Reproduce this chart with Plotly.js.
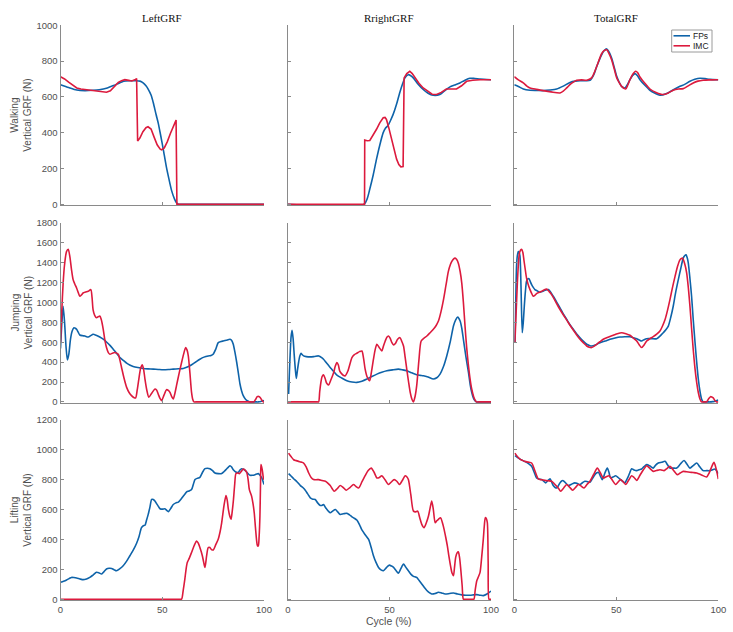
<!DOCTYPE html>
<html>
<head>
<meta charset="utf-8">
<script src="https://cdn.plot.ly/plotly-3.0.1.min.js"></script>
<style>html,body{margin:0;padding:0;background:#fff;}#chart{width:733px;height:632px;}</style>
</head>
<body>
<div id="chart"></div>
<script>
// ---------- DATA: [cycle %, vertical GRF (N)] ----------
const columnTitles = ["LeftGRF", "RrightGRF", "TotalGRF"];
const rowTitles = ["Walking", "Jumping", "Lifting"];
const seriesNames = ["FPs", "IMC"];
const xTicks = [0, 50, 100];
const yMax = [1000, 1800, 1200];

const walkLeftFPs = [[0,668],[4,652],[8,638],[12,635],[16,637],[19,640],[23,650],[26,663],[29,678],[31,687],[34,690],[37,690],[39,688],[40.6,678],[42,662],[43,645],[44.5,610],[45.6,567],[47,500],[48,455],[49.3,380],[50.5,307],[52,210],[53.3,140],[54.6,76],[56,30],[57,8],[58,0],[60,0],[100,0]];
const walkLeftIMC = [[0,712],[2,700],[4,682],[6,665],[8,650],[10,644],[12.8,640],[15,635],[17.7,630],[20,627],[22.6,626],[24.5,634],[26,650],[27.5,670],[28.4,681],[30,690],[31.6,696],[33.5,692],[35,689],[36.5,695],[37.4,702],[37.9,354],[39,370],[40.5,405],[42,428],[43,433],[44.5,420],[46,375],[47.5,332],[49,308],[49.7,304],[51,315],[52.5,350],[54,395],[55.5,440],[56.8,470],[57.2,0],[60,0],[100,0]];
const walkRightFPs = [[0,0],[37.5,0],[39,30],[40.3,85],[42,165],[43.6,252],[45.2,330],[46.9,400],[48,425],[49.3,440],[50.5,468],[51.8,502],[53.5,560],[55,622],[56.5,675],[57.6,706],[59.2,724],[60.5,718],[61.7,706],[64,672],[66.6,641],[69,620],[71.5,609],[74.8,613],[77,632],[79.8,656],[82,666],[84.7,678],[87,692],[89.6,704],[92,703],[94.6,700],[100,696]];
const walkRightIMC = [[0,0],[37.7,0],[37.8,359],[39,355],[40.3,356],[42,385],[43.6,419],[45.2,455],[46.9,483],[47.8,485],[48.5,474],[49.7,425],[51,363],[52.3,300],[53.5,252],[54.6,222],[55.6,209],[56.7,211],[57.2,706],[58.5,730],[60,743],[61.2,730],[62.5,706],[64.5,676],[66.6,650],[69,628],[71,615],[73.2,613],[75.5,625],[78,644],[80.5,646],[83,644],[85.5,662],[88,687],[91,693],[94.6,696],[100,696]];
const walkTotalFPs = [[0,668],[2,658],[4.4,644],[7.7,637],[11,636],[14.2,635],[17.5,638],[20.8,644],[24,660],[27.3,681],[30,688],[32.2,690],[35,690],[37.1,692],[38.8,720],[40.4,770],[42.8,835],[44,858],[45.3,868],[46.5,850],[47.7,817],[49,765],[50.2,715],[51.5,680],[52.6,659],[54.2,650],[55.5,670],[56.7,696],[58,720],[59.2,730],[60.4,718],[61.6,696],[64,665],[66.5,637],[69,620],[71.4,609],[74.7,619],[78,640],[81.2,659],[83.5,670],[86.1,687],[88.5,698],[91,704],[93.5,702],[95.9,698],[100,696]];
const walkTotalIMC = [[0,713],[2,695],[4.4,678],[6,662],[7.7,650],[11,642],[14.2,635],[18,628],[22.4,622],[24,632],[25.7,650],[28,675],[30.6,693],[33,695],[35.5,693],[37.9,706],[39,730],[40.4,770],[42.8,841],[44,858],[45.3,863],[46.5,840],[47.7,807],[49,755],[50.2,706],[51.5,678],[52.6,659],[54.6,644],[55.6,665],[56.7,696],[58,725],[59.5,743],[60.5,735],[61.6,711],[64,676],[66.5,644],[69.5,625],[73,613],[75.5,622],[77.9,637],[80.5,644],[82.8,646],[85,660],[87.7,678],[90,688],[92.6,693],[96,695],[100,696]];

const jumpLeftFPs = [[0,536],[0.7,800],[1.3,961],[2,800],[2.7,560],[3.4,422],[4.1,480],[4.9,629],[5.7,710],[6.6,745],[7.3,740],[7.9,729],[8.7,700],[9.5,672],[11,665],[12,662],[13.6,652],[15,668],[16,679],[17.5,670],[19.3,652],[21,630],[22.6,602],[24.3,568],[25.9,529],[27.5,490],[29.2,446],[31,415],[32.5,389],[34,370],[35.7,356],[38,345],[40.7,336],[43,332],[45.6,329],[48,326],[50.5,323],[53,325],[55.4,329],[58,333],[60.3,336],[62,348],[63.6,363],[66,395],[68.5,429],[70.5,450],[72.6,462],[74,466],[75,479],[76.3,530],[77.5,595],[79,608],[80,612],[81.5,620],[83.3,629],[84.2,615],[84.9,579],[85.8,490],[86.6,396],[87.4,290],[88.2,180],[89,110],[89.8,63],[91,25],[92.3,7],[93.1,0],[94,0],[96.5,0],[97.2,0],[98.5,5],[99.7,13],[100,10]];
const jumpLeftIMC = [[0,595],[0.6,900],[1.3,1194],[2,1380],[2.95,1510],[3.8,1534],[4.6,1460],[5.4,1330],[6.2,1228],[7,1185],[7.9,1144],[8.7,1100],[9.5,1061],[10.3,1075],[11.1,1094],[12.3,1103],[13.6,1111],[14.9,1128],[15.5,1050],[16,928],[16.8,870],[17.7,845],[18.5,855],[19.3,862],[20,830],[21,729],[21.8,620],[22.6,546],[23.5,495],[24.3,479],[25.5,490],[26.7,496],[27.6,490],[28.4,479],[29.2,420],[30,346],[31.2,240],[32.5,146],[33.7,95],[34.9,63],[36,45],[36.9,40],[37.7,120],[38.5,230],[39.4,340],[40.2,373],[40.9,320],[41.5,230],[42.4,120],[43.4,47],[44.9,90],[46.4,130],[47.2,120],[48,80],[48.9,35],[49.7,13],[50.9,70],[52.1,123],[53,115],[53.8,96],[54.6,55],[55.4,30],[56.2,85],[57,163],[58.2,280],[59.5,396],[60.5,480],[61.5,546],[62.2,520],[62.8,462],[63.6,290],[64.4,96],[65,25],[65.6,0],[66.5,0],[94,0],[95,0],[96,30],[96.7,53],[97.4,55],[98,47],[98.9,20],[99.7,0],[100,0]];
const jumpRightFPs = [[0.3,80],[0.7,300],[1.1,496],[1.5,650],[2,719],[2.5,640],[3.1,462],[3.6,330],[4.1,236],[4.6,310],[5.2,396],[5.8,460],[6.4,489],[7,475],[7.7,462],[9,455],[11,452],[13,456],[15.1,462],[16.2,450],[17.5,429],[19,390],[20.8,346],[22.5,305],[24.1,269],[26.5,240],[29,213],[31.5,200],[33.9,196],[36.4,208],[38.9,230],[41.3,255],[43.8,279],[46.2,298],[48.7,313],[51.5,322],[54.4,329],[56.5,322],[58.5,313],[61,292],[63.4,273],[65,267],[66.7,263],[69,250],[71.6,230],[73.3,243],[74.9,279],[76.5,350],[78.2,462],[80,610],[81.5,762],[82.6,825],[83.6,852],[84.8,812],[85.6,740],[86.4,629],[87.6,460],[88.9,296],[89.7,180],[90.5,96],[91.3,40],[92.1,13],[93,0],[94,0],[100,0]];
const jumpRightIMC = [[0,0],[14.5,0],[15.1,0],[15.6,100],[16.2,196],[16.8,255],[17.5,273],[18.3,235],[19,190],[20,170],[21,215],[22.5,296],[23.3,360],[24.1,396],[24.8,370],[25.5,310],[26.6,279],[27.4,265],[28.2,263],[29.5,310],[31.5,446],[32.7,475],[33.9,489],[35.2,505],[36.4,512],[37.2,440],[38,329],[39,250],[40.2,213],[41.1,300],[42.1,429],[43,530],[43.8,579],[45,545],[46.2,512],[47,560],[47.9,612],[48.7,650],[49.5,662],[50.3,640],[51.2,595],[52,572],[53,590],[54,630],[55.2,645],[56,610],[56.9,562],[57.7,450],[58.5,329],[59.4,200],[60.2,96],[61,30],[61.8,0],[62.6,55],[63.4,163],[64.5,420],[65.6,612],[67,640],[68.4,662],[70,695],[71.6,729],[72.9,765],[74.1,812],[75.4,910],[76.6,1028],[77.8,1170],[79,1311],[80,1380],[80.7,1411],[81.5,1435],[82.3,1444],[83.1,1430],[83.9,1394],[84.8,1310],[85.6,1194],[86.4,1000],[87.2,762],[88,550],[88.9,363],[89.7,230],[90.5,130],[91.5,50],[92.5,7],[93,0],[94,0],[100,0]];
const jumpTotalFPs = [[0.3,595],[0.7,1000],[1.1,1361],[1.5,1470],[2,1510],[2.4,1500],[2.8,1460],[3.3,1150],[3.9,695],[4.4,800],[4.9,961],[5.4,1100],[6,1211],[6.6,1235],[7.2,1238],[7.8,1210],[8.5,1178],[9.3,1150],[10.1,1128],[11.3,1115],[12.6,1101],[13.8,1110],[15,1121],[16.7,1128],[17.9,1100],[19.1,1061],[20.7,1005],[22.4,945],[24,885],[25.7,828],[27.3,775],[28.9,729],[30.5,685],[32.2,645],[33.8,610],[35.5,579],[36.7,568],[37.9,562],[40,575],[42,595],[44.5,612],[46.9,629],[49.4,642],[51.8,652],[54.2,655],[56.7,655],[58.4,645],[60,635],[61.2,622],[62.4,612],[63.6,625],[64.9,635],[67.3,635],[69.8,635],[71.4,660],[73,695],[74.3,725],[75.5,762],[76.7,850],[77.9,961],[79.1,1100],[80.4,1228],[81.6,1340],[82.8,1444],[83.5,1468],[84.2,1477],[84.8,1445],[85.3,1394],[86.1,1240],[86.9,1061],[87.7,830],[88.6,595],[89.4,400],[90.2,230],[91,110],[91.8,30],[92.6,0],[93.5,0],[95.2,0],[95.9,0],[97.2,3],[98.4,7],[100,20]];
const jumpTotalIMC = [[0.3,595],[0.9,900],[1.5,1194],[2,1380],[2.5,1494],[3.1,1525],[3.6,1534],[4.2,1500],[4.7,1427],[5.3,1340],[6,1244],[6.8,1180],[7.7,1128],[8.5,1090],[9.3,1061],[10.1,1070],[10.9,1088],[12.1,1100],[13.4,1111],[14.6,1125],[15.8,1134],[17,1110],[18.3,1078],[20.3,1005],[22.4,928],[24,875],[25.7,822],[27.3,770],[28.9,722],[30.5,675],[32.2,629],[33.8,595],[35.5,562],[36.7,550],[37.9,546],[39.2,560],[40.4,579],[42,605],[43.6,629],[46,650],[48.5,669],[50.5,685],[52.6,695],[54.7,685],[56.7,669],[58.4,640],[60,612],[61.2,575],[62.4,546],[63.7,575],[64.9,612],[66.5,635],[68.1,655],[69.8,680],[71.4,712],[72.6,760],[73.9,828],[75.1,920],[76.3,1028],[77.5,1145],[78.8,1261],[80,1360],[81.2,1427],[81.9,1440],[82.5,1444],[83.5,1390],[84.5,1294],[85.3,1150],[86.1,961],[86.9,740],[87.7,529],[88.5,350],[89.4,196],[90.2,95],[91,30],[91.8,0],[92.6,0],[93.6,0],[94.3,0],[95.2,30],[96.2,53],[96.8,50],[97.5,40],[98.3,15],[99.2,0],[100,0]];

const liftLeftFPs = [[0,113],[1.5,120],[3,129],[4.2,138],[5.4,146],[6.6,145],[7.9,142],[9.5,136],[11.1,131],[12.8,136],[14.4,146],[16,162],[17.7,180],[19,176],[20.2,169],[21.4,185],[22.6,202],[23.9,207],[25.1,206],[26.3,198],[27.5,191],[29.2,205],[30.8,224],[32.5,255],[34.1,291],[35.8,330],[37.4,375],[38.6,420],[39.8,479],[40.7,492],[41.5,495],[42.3,530],[43.1,568],[44,620],[44.8,668],[45.6,668],[46.4,657],[47.7,630],[48.9,606],[50.1,603],[51.3,606],[52.2,595],[53,586],[54.2,608],[55.4,634],[56.7,645],[57.9,650],[59.1,668],[60.3,690],[61.2,705],[62,719],[63.2,725],[64.4,734],[65.3,770],[66.1,801],[67.3,810],[68.5,816],[69.8,850],[71,874],[72.2,877],[73.4,874],[74.6,862],[75.9,845],[77.5,841],[79.2,841],[80.4,855],[81.6,872],[82.5,885],[83.3,894],[84.1,885],[84.9,867],[86.1,852],[87.4,850],[88.2,865],[89,874],[89.8,870],[90.7,863],[91.9,845],[93.1,830],[94.3,830],[95.6,834],[96.4,838],[97.2,841],[98,830],[98.9,812],[100,768]];
const liftLeftIMC = [[0,0],[58.5,0],[59.5,0],[60.3,60],[61.1,135],[61.7,200],[62.3,246],[63.3,275],[64.4,313],[65.7,360],[66.9,390],[67.7,375],[68.5,346],[69.7,291],[70.4,245],[71,213],[71.8,290],[72.6,346],[73.4,346],[74.2,332],[75.1,330],[76.3,365],[77.5,401],[78.4,450],[79.2,512],[80.3,623],[81.3,694],[81.9,665],[82.5,601],[83.2,555],[83.8,535],[84.4,590],[85,668],[85.6,770],[86.2,841],[87,845],[87.9,841],[88.8,855],[89.8,872],[90.7,865],[91.5,850],[92.2,800],[92.8,734],[93.9,690],[94.6,640],[95.2,579],[95.8,480],[96.4,390],[96.8,357],[97.2,357],[97.6,420],[98,557],[98.3,780],[98.5,901],[99.1,870],[99.7,812],[100,800]];
const liftRightFPs = [[0.3,841],[1.5,825],[2.8,807],[4.5,785],[6.1,761],[7.3,748],[8.5,730],[9.7,705],[11,679],[12.2,670],[13.4,668],[14.6,645],[15.9,628],[16.7,628],[17.5,634],[18.3,618],[19.2,601],[20,588],[20.8,579],[22,590],[23.3,601],[24.5,585],[25.7,568],[27.3,572],[29,575],[30.3,565],[31.5,552],[32.7,542],[33.9,530],[35.2,500],[36.4,464],[38,432],[39.7,401],[40.9,350],[42.1,291],[43.3,248],[44.6,213],[45.8,197],[47,191],[48.4,210],[49.8,228],[51,222],[52,213],[53.2,192],[54.4,175],[55.6,205],[56.9,235],[58,215],[59.3,191],[60.5,168],[61.8,153],[62.6,150],[63.4,146],[64.6,125],[65.9,102],[67.1,80],[68.4,58],[69.6,44],[70.8,35],[72.5,38],[74.1,47],[75.7,42],[77.4,35],[79.5,38],[81.5,42],[83.5,35],[85.6,29],[87.6,27],[89.7,27],[91.3,29],[93,31],[94.6,27],[96.2,24],[98,35],[100,55]];
const liftRightIMC = [[0.3,978],[1.5,955],[2.8,934],[4,928],[5.2,923],[6.5,918],[7.7,912],[9,885],[10.2,845],[11.4,815],[12.6,801],[13.9,800],[15.1,801],[16.8,795],[18.4,790],[19.6,778],[20.8,761],[21.8,740],[22.8,723],[24.2,740],[25.7,761],[27.2,748],[28.7,730],[30.5,748],[32.3,768],[33.5,755],[34.8,745],[36.4,785],[38,827],[39.5,862],[41,878],[42.4,850],[43.8,812],[45,815],[46.2,827],[47.8,800],[49.5,768],[50.9,785],[52.3,801],[53.6,790],[54.9,768],[56.3,795],[57.7,827],[58.5,820],[59.3,801],[60.5,700],[61.8,590],[62.9,585],[63.9,590],[64.9,545],[65.9,501],[67,479],[68.1,510],[69.2,557],[70,610],[70.8,657],[71.6,600],[72.5,512],[73.3,525],[74.1,535],[75.2,546],[76,515],[76.9,468],[77.7,415],[78.5,357],[79.3,285],[80.2,213],[80.8,175],[81.5,158],[82,210],[82.6,280],[83.3,310],[83.9,317],[84.5,280],[85.1,202],[85.8,90],[86.4,0],[87.2,0],[90.8,0],[91.6,0],[92.2,60],[93,124],[93.8,150],[94.6,180],[95.4,280],[96.2,401],[96.7,490],[97.2,546],[97.7,540],[98.2,512],[98.6,250],[99,0],[99.5,0],[100,0]];
const liftTotalFPs = [[0.3,961],[1.5,950],[2.8,938],[4.4,927],[6,916],[7.3,905],[8.5,890],[9.7,852],[10.9,812],[12.1,805],[13.4,801],[14.4,790],[15.4,779],[16.5,795],[17.5,807],[18.3,785],[19.1,761],[20,748],[20.8,745],[21.6,760],[22.4,779],[23.2,792],[24,794],[25.2,778],[26.5,761],[28,770],[29.7,779],[30.9,775],[32.2,768],[33.4,780],[34.6,790],[35.9,787],[37.1,783],[38.3,808],[39.5,834],[40.3,845],[41.2,850],[42.2,825],[43.1,801],[43.8,820],[44.4,845],[45,865],[45.6,878],[46.4,850],[47.2,812],[48.4,818],[49.7,827],[50.9,815],[52.1,801],[53.1,790],[54.2,779],[55,798],[55.9,823],[56.7,850],[57.5,874],[58.7,865],[60,861],[61.2,867],[62.4,872],[63.6,888],[64.9,901],[66.5,892],[68.1,878],[69.3,898],[70.6,912],[72.2,917],[73.9,923],[75.1,900],[76.3,878],[77.9,878],[79.6,878],[81.4,905],[83.2,929],[84.6,905],[86.1,878],[87.7,895],[89.4,912],[91,885],[92.6,861],[94.2,861],[95.9,861],[97.1,866],[98.4,872],[99.2,858],[100,841]];
const liftTotalIMC = [[0.3,978],[1.5,955],[2.8,938],[4,930],[5.2,923],[6.8,918],[8.5,912],[10.1,860],[11.8,805],[13.4,800],[15,796],[16.6,793],[18.3,790],[19.5,775],[20.8,756],[21.8,740],[22.7,723],[24.2,745],[25.7,768],[27.1,750],[28.6,730],[30,748],[31.4,768],[32.8,757],[34.2,745],[35.6,768],[37.1,790],[38.9,835],[40.7,878],[42.2,845],[43.6,812],[45,820],[46.4,827],[48,798],[49.7,768],[50.9,785],[52.1,801],[53.4,785],[54.7,768],[56.1,798],[57.5,827],[58.7,815],[60,796],[61.6,830],[63.2,865],[64.9,894],[66.5,875],[68.1,856],[69.7,862],[71.4,867],[72.4,864],[73.4,861],[74.8,875],[76.3,890],[78.1,862],[79.9,834],[81.3,845],[82.8,856],[84.4,853],[86.1,850],[87.7,848],[89.4,845],[91.8,832],[94.3,819],[95.5,845],[96.7,885],[97.9,916],[99,870],[100,805]];

// ---------- CHART ----------
const COLORS = {FPs: '#0e63a9', IMC: '#dc1a3d'};
const AXIS_GRAY = '#8a8a8a';
const TICK_GRAY = '#505050';
const FONT = 'Liberation Sans, Arial, sans-serif';
const TICK_SIZE = 9.5;

const grid = [
  [[walkLeftFPs, walkLeftIMC, true], [walkRightFPs, walkRightIMC, true], [walkTotalFPs, walkTotalIMC, false]],
  [[jumpLeftFPs, jumpLeftIMC, false], [jumpRightFPs, jumpRightIMC, false], [jumpTotalFPs, jumpTotalIMC, false]],
  [[liftLeftFPs, liftLeftIMC, false], [liftRightFPs, liftRightIMC, false], [liftTotalFPs, liftTotalIMC, false]]
];

const W = 733, H = 632;
const colPx = [[60.5, 264], [288, 491], [514.3, 718.3]];
const rowPx = [[25.3, 205.3], [222.7, 403], [420, 600.3]];
const px2x = p => p / W;
const px2y = p => 1 - p / H;

const traces = [];
const layout = {
  width: W, height: H,
  margin: {l: 0, r: 0, t: 0, b: 0},
  paper_bgcolor: '#fff', plot_bgcolor: '#fff',
  font: {family: FONT, size: TICK_SIZE, color: TICK_GRAY},
  showlegend: false,
  annotations: [],
  shapes: []
};

for (let r = 0; r < 3; r++) {
  for (let c = 0; c < 3; c++) {
    const idx = r * 3 + c + 1;
    const xa = idx === 1 ? 'x' : 'x' + idx;
    const ya = idx === 1 ? 'y' : 'y' + idx;
    const [fps, imc, sharp] = grid[r][c];
    [[seriesNames[0], fps], [seriesNames[1], imc]].forEach(([name, pts], k) => {
      const useLinear = sharp && k === 1;
      traces.push({
        type: 'scatter', mode: 'lines', name: name,
        x: pts.map(p => p[0]), y: pts.map(p => p[1]),
        xaxis: xa, yaxis: ya,
        line: {color: COLORS[name], width: 1.6,
               shape: useLinear ? 'linear' : 'spline', smoothing: 0.7},
        hoverinfo: 'skip'
      });
    });
    const axCommon = {
      showgrid: false, zeroline: false, showline: true, linecolor: AXIS_GRAY, linewidth: 1,
      ticks: 'inside', ticklen: 3, tickcolor: AXIS_GRAY, tickwidth: 1,
      tickfont: {family: FONT, size: TICK_SIZE, color: TICK_GRAY}, mirror: false, fixedrange: true
    };
    const lo = -yMax[r] * 0.006;
    layout[idx === 1 ? 'xaxis' : 'xaxis' + idx] = Object.assign({}, axCommon, {
      domain: [px2x(colPx[c][0]), px2x(colPx[c][1])],
      range: [0, 100], tickvals: xTicks, showticklabels: r === 2,
      anchor: ya
    });
    layout[idx === 1 ? 'yaxis' : 'yaxis' + idx] = Object.assign({}, axCommon, {
      domain: [px2y(rowPx[r][1]), px2y(rowPx[r][0])],
      range: [lo, yMax[r]], dtick: 200, tick0: 0, showticklabels: c === 0,
      anchor: xa
    });
  }
}

// column titles
columnTitles.forEach((t, c) => {
  layout.annotations.push({
    text: t, xref: 'paper', yref: 'paper',
    x: px2x((colPx[c][0] + colPx[c][1]) / 2), y: px2y(18),
    xanchor: 'center', yanchor: 'middle', showarrow: false,
    font: {family: 'Liberation Serif, DejaVu Serif, serif', size: 11, color: '#111'}
  });
});
// row (y-axis) titles
rowTitles.forEach((t, r) => {
  layout.annotations.push({
    text: t + '<br>Vertical GRF (N)', xref: 'paper', yref: 'paper',
    x: px2x(21.5), y: px2y((rowPx[r][0] + rowPx[r][1]) / 2),
    xanchor: 'center', yanchor: 'middle', showarrow: false, textangle: -90,
    font: {family: FONT, size: 10, color: TICK_GRAY}
  });
});
// x title
layout.annotations.push({
  text: 'Cycle (%)', xref: 'paper', yref: 'paper',
  x: px2x((colPx[1][0] + colPx[1][1]) / 2), y: px2y(621),
  xanchor: 'center', yanchor: 'middle', showarrow: false,
  font: {family: FONT, size: 10.5, color: TICK_GRAY}
});

// compact legend box (top-right panel)
const leg = {x0: 671.7, x1: 712, y0: 30, y1: 52};
layout.shapes.push({type: 'rect', xref: 'paper', yref: 'paper',
  x0: px2x(leg.x0), x1: px2x(leg.x1), y0: px2y(leg.y1), y1: px2y(leg.y0),
  line: {color: '#9a9a9a', width: 1}, fillcolor: '#fff', layer: 'above'});
seriesNames.forEach((name, i) => {
  const yy = px2y(35.8 + i * 10);
  layout.shapes.push({type: 'line', xref: 'paper', yref: 'paper',
    x0: px2x(673.5), x1: px2x(690), y0: yy, y1: yy,
    line: {color: COLORS[name], width: 1.6}, layer: 'above'});
  layout.annotations.push({text: name, xref: 'paper', yref: 'paper',
    x: px2x(691), y: yy, xanchor: 'left', yanchor: 'middle', showarrow: false,
    font: {family: FONT, size: 8.5, color: '#222'}});
});

Plotly.newPlot('chart', traces, layout, {displayModeBar: false, staticPlot: true});
</script>
</body>
</html>
